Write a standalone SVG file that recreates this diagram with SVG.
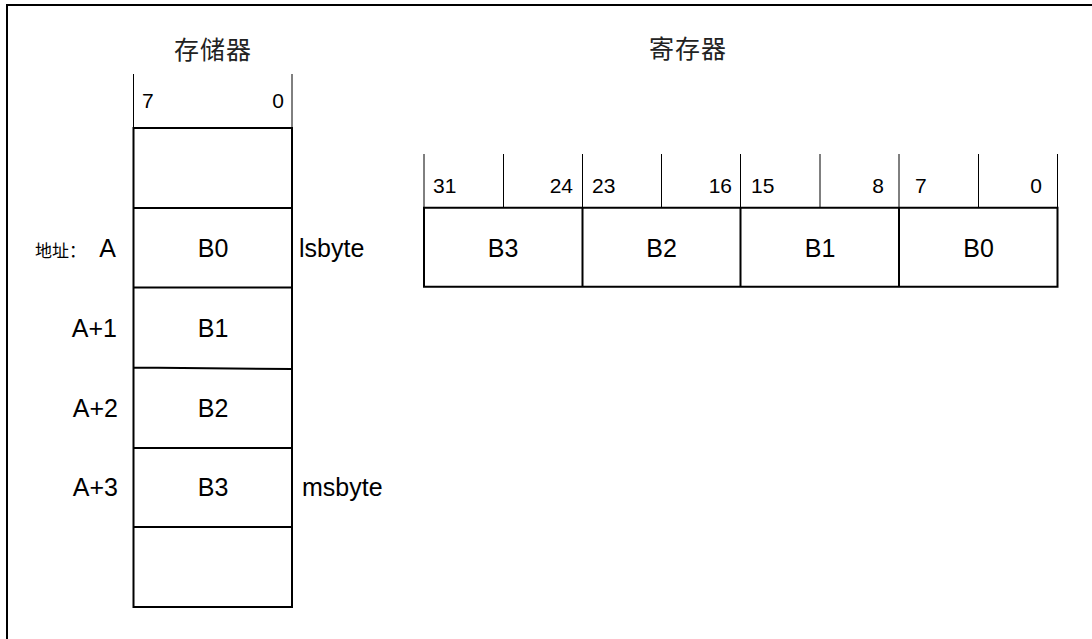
<svg xmlns="http://www.w3.org/2000/svg" width="1092" height="639" viewBox="0 0 1092 639">
<style>
.t{font-family:"Liberation Sans",Arial,sans-serif;font-size:25px;fill:#000}
.d{font-family:"Liberation Sans",Arial,sans-serif;font-size:21px;fill:#000}
.c{font-family:"Noto Sans CJK SC",sans-serif;font-size:25px;fill:#222;letter-spacing:1px}
.cs{font-family:"Noto Sans CJK SC",sans-serif;font-size:17px;fill:#000}
.thick{stroke:#000;stroke-width:2;fill:none}
.thin{stroke:#000;stroke-width:1;fill:none}
</style>
<rect width="1092" height="639" fill="#fff"/>
<path class="thick" d="M7,639 V5 H1092"/>
<g id="memory">
<text class="c" x="213" y="59" text-anchor="middle">存储器</text>
<path class="thin" d="M133.5,74 V128 M292,74 V128"/>
<text class="d" x="142" y="108">7</text>
<text class="d" x="284" y="108" text-anchor="end">0</text>
<path class="thick" d="M133.5,128 V607 H292 V128 Z M133.5,208 H292 M133.5,287.5 H292 M133.5,367.5 L292,369 M133.5,448 H292 M133.5,527 H292"/>
</g>
<g id="mem-B0"><text class="cs" x="35" y="257">地址：</text><text class="t" x="116" y="257" text-anchor="end">A</text><text class="t" x="213" y="257" text-anchor="middle">B0</text><text class="t" x="299" y="257">lsbyte</text></g>
<g id="mem-B1"><text class="t" x="117" y="337" text-anchor="end">A+1</text><text class="t" x="213" y="337" text-anchor="middle">B1</text></g>
<g id="mem-B2"><text class="t" x="118" y="417" text-anchor="end">A+2</text><text class="t" x="213" y="417" text-anchor="middle">B2</text></g>
<g id="mem-B3"><text class="t" x="118" y="496" text-anchor="end">A+3</text><text class="t" x="213" y="496" text-anchor="middle">B3</text><text class="t" x="302" y="496">msbyte</text></g>
<g id="register">
<text class="c" x="688" y="58" text-anchor="middle">寄存器</text>
<path class="thin" d="M424,154 V207.7 M503.5,154 V207.7 M582.5,154 V207.7 M661.5,154 V207.7 M740.5,154 V207.7 M820,154 V207.7 M899,154 V207.7 M978.5,154 V207.7 M1057.5,154 V207.7"/>
<path class="thick" d="M424,207.7 H1057.5 V286.7 H424 Z M582.5,207.7 V286.7 M740.5,207.7 V286.7 M899,207.7 V286.7"/>
<text class="d" x="433" y="193">31</text>
<text class="d" x="573" y="193" text-anchor="end">24</text>
<text class="d" x="592" y="193">23</text>
<text class="d" x="732" y="193" text-anchor="end">16</text>
<text class="d" x="751" y="193">15</text>
<text class="d" x="884" y="193" text-anchor="end">8</text>
<text class="d" x="915" y="193">7</text>
<text class="d" x="1042" y="193" text-anchor="end">0</text>
</g>
<g id="reg-B3"><text class="t" x="503" y="257" text-anchor="middle">B3</text></g>
<g id="reg-B2"><text class="t" x="661.5" y="257" text-anchor="middle">B2</text></g>
<g id="reg-B1"><text class="t" x="820" y="257" text-anchor="middle">B1</text></g>
<g id="reg-B0"><text class="t" x="978.5" y="257" text-anchor="middle">B0</text></g>
</svg>
